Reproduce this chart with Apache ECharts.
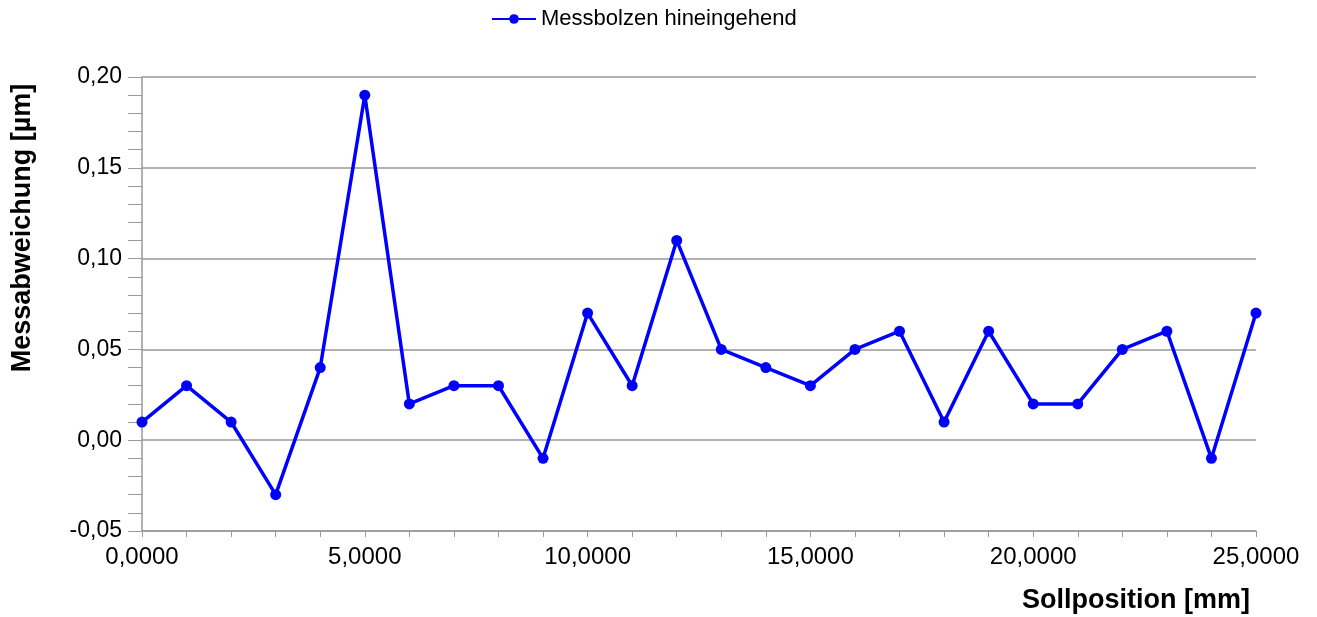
<html>
<head>
    <meta charset="utf-8">
    <title>Messabweichung</title>
    <script src="https://cdn.jsdelivr.net/npm/echarts@6/dist/echarts.min.js"></script>
</head>
<body style="margin:0">
    <div id="chart" style="width: 1317px; height: 617px;"></div>
    <script type="text/javascript">
        // Sollposition [mm]
        var positions = [0, 1, 2, 3, 4, 5, 6, 7, 8, 9, 10, 11, 12, 13, 14, 15, 16, 17, 18, 19, 20, 21, 22, 23, 24, 25];
        // Messabweichung [µm]
        var deviations = [0.01, 0.03, 0.01, -0.03, 0.04, 0.19, 0.02, 0.03, 0.03, -0.01, 0.07, 0.03, 0.11, 0.05, 0.04, 0.03, 0.05, 0.06, 0.01, 0.06, 0.02, 0.02, 0.05, 0.06, -0.01, 0.07];
        var seriesName = 'Messbolzen hineingehend';

        var seriesData = positions.map(function (x, i) {
            return [x, deviations[i]];
        });

        var chart = echarts.init(document.getElementById('chart'));
        var font = '"Liberation Sans", Arial, sans-serif';
        var option = {
            animation: false,
            textStyle: { fontFamily: font },
            legend: {
                top: 3,
                left: 486,
                itemWidth: 44,
                itemHeight: 12,
                itemGap: 10,
                textStyle: { fontSize: 22, color: '#000', fontFamily: font },
                data: [seriesName]
            },
            grid: {
                left: 142,
                right: 61,
                top: 77,
                bottom: 86
            },
            xAxis: {
                type: 'value',
                min: 0,
                max: 25,
                interval: 5,
                name: 'Sollposition [mm]',
                nameLocation: 'end',
                nameGap: 0,
                nameTextStyle: {
                    fontSize: 27,
                    fontWeight: 'bold',
                    color: '#000',
                    align: 'right',
                    verticalAlign: 'top',
                    padding: [56, 6, 0, 0]
                },
                axisLine: { onZero: false, lineStyle: { color: '#999', width: 1.5 } },
                axisTick: { show: true, length: 6, lineStyle: { color: '#999' } },
                minorTick: { show: true, splitNumber: 5, length: 6, lineStyle: { color: '#999' } },
                splitLine: { show: false },
                axisLabel: {
                    fontSize: 24,
                    color: '#000',
                    margin: 14,
                    formatter: function (v) { return v.toFixed(4).replace('.', ','); }
                }
            },
            yAxis: {
                type: 'value',
                min: -0.05,
                max: 0.2,
                interval: 0.05,
                name: 'Messabweichung [µm]',
                nameLocation: 'middle',
                nameRotate: 90,
                nameGap: 106,
                nameTextStyle: {
                    fontSize: 27,
                    fontWeight: 'bold',
                    color: '#000',
                    padding: [0, 0, 0, 152]
                },
                axisLine: { show: true, lineStyle: { color: '#999', width: 1.5 } },
                axisTick: { show: true, length: 14, lineStyle: { color: '#999' } },
                minorTick: { show: true, splitNumber: 5, length: 14, lineStyle: { color: '#999' } },
                splitLine: { show: true, lineStyle: { color: '#999', width: 1.5 } },
                axisLabel: {
                    fontSize: 23,
                    color: '#000',
                    margin: 20,
                    formatter: function (v) { return v.toFixed(2).replace('.', ','); }
                }
            },
            series: [{
                name: seriesName,
                type: 'line',
                data: seriesData,
                symbol: 'circle',
                symbolSize: 11,
                lineStyle: { color: '#0000ff', width: 3.5 },
                itemStyle: { color: '#0000ff' }
            }]
        };
        chart.setOption(option);
    </script>
</body>
</html>
